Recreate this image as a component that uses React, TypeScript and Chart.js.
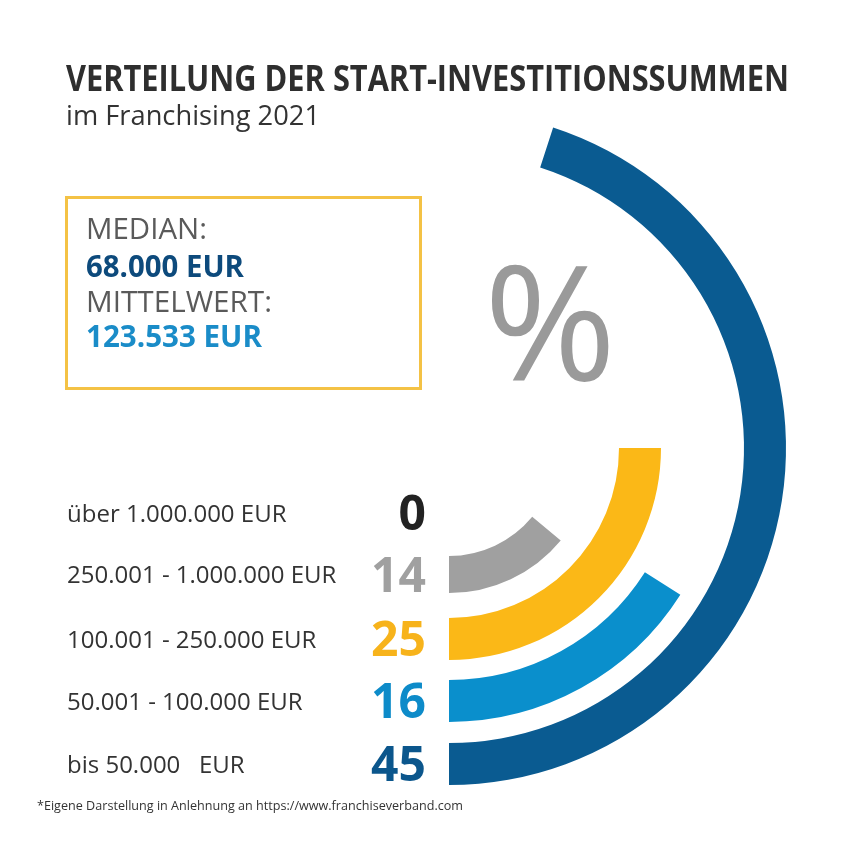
import React, { useEffect, useRef } from "react";
import { Chart, registerables } from "chart.js";

Chart.register(...registerables);

// ---- data ----
const categories = [
  "bis 50.000   EUR",
  "50.001 - 100.000 EUR",
  "100.001 - 250.000 EUR",
  "250.001 - 1.000.000 EUR",
  "über 1.000.000 EUR",
];
const shares = [45, 16, 25, 14, 0];
const ringColors = ["#0a5b91", "#0a8fcc", "#fbb817", "#a0a0a0", "#a0a0a0"];
const numberColors = ["#0b568c", "#0d8bc9", "#f7b31b", "#a0a0a0", "#222222"];

const titleText = "VERTEILUNG DER START-INVESTITIONSSUMMEN";
const subtitleText = "im Franchising 2021";
const medianLabel = "MEDIAN:";
const medianValue = "68.000 EUR";
const meanLabel = "MITTELWERT:";
const meanValue = "123.533 EUR";
const footnote = "*Eigene Darstellung in Anlehnung an https://www.franchiseverband.com";

// ---- style ----
const ringWeights = [42, 42, 42, 37, 38];
const gapWeights = [21, 20, 25, 24];
const FONT = "'Open Sans', 'Noto Sans', sans-serif";

function FitText(props: { text: string; left: number; top: number; width?: number; style?: React.CSSProperties }) {
  const ref = useRef<HTMLSpanElement>(null);
  useEffect(() => {
    const el = ref.current;
    if (!el || !props.width) return;
    el.style.transform = "none";
    const w = el.getBoundingClientRect().width;
    if (w > 0) el.style.transform = `scaleX(${props.width / w})`;
  }, [props.text, props.width]);
  return (
    <span
      ref={ref}
      style={{
        position: "absolute",
        left: props.left,
        top: props.top,
        whiteSpace: "pre",
        transformOrigin: "0 0",
        lineHeight: 1,
        fontFamily: FONT,
        ...props.style,
      }}
    >
      {props.text}
    </span>
  );
}

const labelPlugin = {
  id: "ringLabels",
  afterDatasetsDraw(chart: any) {
    const ctx = chart.ctx as CanvasRenderingContext2D;
    ctx.save();
    categories.forEach((cat, i) => {
      const meta = chart.getDatasetMeta(i * 2);
      const arc = meta.data[1];
      if (!arc) return;
      const cy = arc.y + (arc.innerRadius + arc.outerRadius) / 2;
      const lfs = 24;
      ctx.font = `400 ${lfs}px ${FONT}`;
      ctx.fillStyle = "#333333";
      ctx.textAlign = "left";
      ctx.textBaseline = "alphabetic";
      ctx.fillText(cat, 67, cy + 0.357 * lfs);
      const nfs = 48;
      ctx.font = `700 ${nfs}px ${FONT}`;
      ctx.fillStyle = numberColors[i];
      ctx.textAlign = "right";
      ctx.fillText(String(shares[i]), 426, cy + 0.357 * nfs);
    });
    ctx.restore();
  },
};

export default function App() {
  const canvasRef = useRef<HTMLCanvasElement>(null);

  useEffect(() => {
    const canvas = canvasRef.current;
    if (!canvas) return;
    const datasets: any[] = [];
    shares.forEach((v, i) => {
      datasets.push({
        label: categories[i],
        data: [100 - v, v],
        backgroundColor: ["rgba(0,0,0,0)", ringColors[i]],
        weight: ringWeights[i],
        borderWidth: 0,
        hoverBorderWidth: 0,
        hoverOffset: 0,
        offset: 0,
      });
      if (i < shares.length - 1) {
        datasets.push({
          label: "",
          data: [1],
          backgroundColor: ["rgba(0,0,0,0)"],
          weight: gapWeights[i],
          borderWidth: 0,
          hoverBorderWidth: 0,
          hoverOffset: 0,
          offset: 0,
        });
      }
    });
    const chart = new Chart(canvas, {
      type: "doughnut",
      data: { labels: ["rest", "share"], datasets },
      options: {
        responsive: false,
        animation: false,
        events: [],
        rotation: 180,
        circumference: 360,
        cutout: 46,
        radius: "100%",
        layout: { padding: { left: 112, right: 64, top: 111, bottom: 65 } },
        plugins: {
          legend: { display: false },
          tooltip: { enabled: false },
          title: { display: false },
        },
      } as any,
      plugins: [labelPlugin],
    });
    return () => chart.destroy();
  }, []);

  return (
    <div style={{ position: "absolute", left: 0, top: 0, width: 850, height: 850, background: "#ffffff", overflow: "hidden" }}>
      <canvas ref={canvasRef} width={850} height={850} style={{ position: "absolute", left: 0, top: 0, width: 850, height: 850 }} />
      <FitText text={titleText} left={66} top={60} width={723} style={{ fontSize: 36, fontWeight: 700, color: "#2e2e2e" }} />
      <FitText text={subtitleText} left={66} top={100} width={254} style={{ fontSize: 28, fontWeight: 400, color: "#333333" }} />
      <div
        style={{
          position: "absolute",
          left: 65,
          top: 196,
          width: 357,
          height: 194,
          boxSizing: "border-box",
          border: "3px solid #f4c245",
        }}
      />
      <FitText text={medianLabel} left={86} top={213} width={121} style={{ fontSize: 30, fontWeight: 400, color: "#5a5a5a" }} />
      <FitText text={medianValue} left={86} top={251} width={158} style={{ fontSize: 30, fontWeight: 700, color: "#0d4a7c" }} />
      <FitText text={meanLabel} left={86} top={286} width={186} style={{ fontSize: 30, fontWeight: 400, color: "#5a5a5a" }} />
      <FitText text={meanValue} left={86} top={321} width={176} style={{ fontSize: 30, fontWeight: 700, color: "#1a8cc8" }} />
      <FitText text="%" left={484} top={238} style={{ fontSize: 160, fontWeight: 400, color: "#9a9a9a" }} />
      <FitText text={footnote} left={37} top={799} width={426} style={{ fontSize: 13, fontWeight: 400, color: "#333333" }} />
    </div>
  );
}
